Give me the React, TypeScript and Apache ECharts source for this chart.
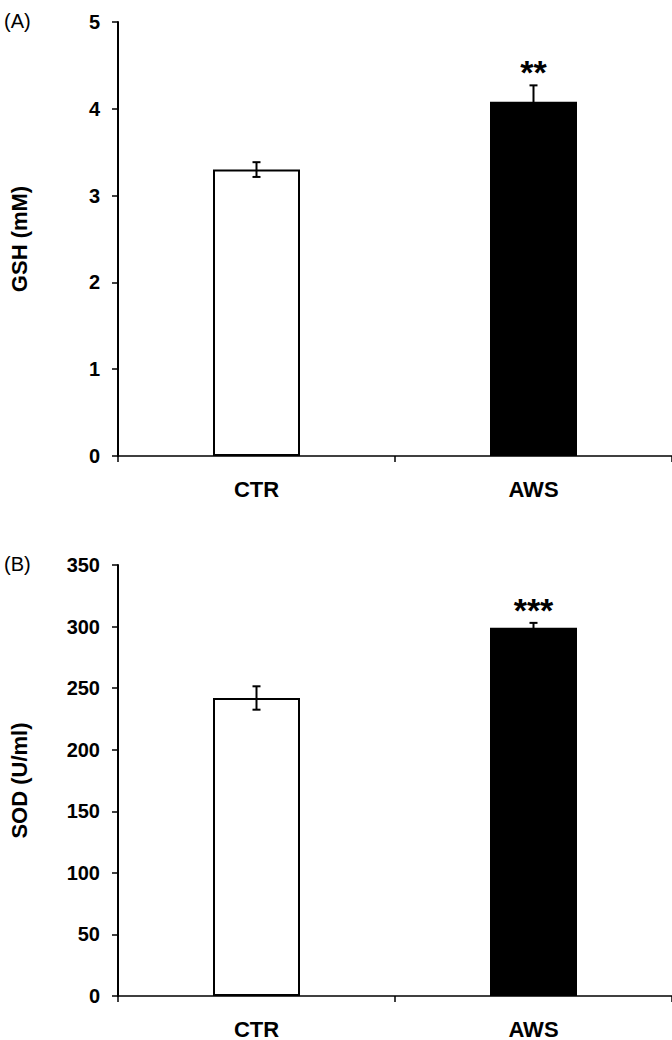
import React, { useEffect, useRef } from "react";
import * as echarts from "echarts";

const categories = ["CTR", "AWS"];
const gshMeans = [3.3, 4.08];
const gshErrors = [0.085, 0.19];
const gshSignif = ["", "**"];
const sodMeans = [242, 299];
const sodErrors = [9.5, 4];
const sodSignif = ["", "***"];
const barFills = ["#ffffff", "#000000"];
const gshTicks = { min: 0, max: 5, interval: 1 };
const sodTicks = { min: 0, max: 350, interval: 50 };

const FONT = "'Liberation Sans', Arial, sans-serif";

const starsRef: Record<string, string[]> = { starsA: gshSignif, starsB: sodSignif };

function errorRender(params: any, api: any) {
  const x = api.value(0);
  const y = api.value(1);
  const e = api.value(2);
  const top = api.coord([x, y + e]);
  const bot = api.coord([x, y - e]);
  const half = 4;
  const st = { stroke: "#000", lineWidth: 2 };
  return {
    type: "group",
    children: [
      { type: "line", shape: { x1: top[0], y1: top[1], x2: bot[0], y2: bot[1] }, style: st },
      { type: "line", shape: { x1: top[0] - half, y1: top[1], x2: top[0] + half, y2: top[1] }, style: st },
      { type: "line", shape: { x1: bot[0] - half, y1: bot[1], x2: bot[0] + half, y2: bot[1] }, style: st },
    ],
  };
}

function starRender(params: any, api: any) {
  const x = api.value(0);
  const y = api.value(1);
  const e = api.value(2);
  const top = api.coord([x, y + e]);
  const txt = starsRef[params.seriesName][params.dataIndex] || "";
  return {
    type: "text",
    x: top[0],
    y: top[1] + 4,
    style: {
      text: txt,
      fontSize: 34,
      fontWeight: "bold",
      fontFamily: FONT,
      fill: "#000",
      align: "center",
      verticalAlign: "bottom",
    },
  };
}

export default function App() {
  const ref = useRef<HTMLDivElement>(null);
  useEffect(() => {
    if (!ref.current) return;
    const chart = echarts.init(ref.current, null, { renderer: "svg" });
    const yAxisCommon = (name: string, ticks: any, gridIndex: number) => ({
      type: "value",
      gridIndex,
      min: ticks.min,
      max: ticks.max,
      interval: ticks.interval,
      name,
      nameLocation: "middle",
      nameGap: 88,
      nameTextStyle: { fontFamily: FONT, fontWeight: "bold", fontSize: 22, color: "#000" },
      axisLine: { show: true, lineStyle: { color: "#000", width: 2 } },
      axisTick: { show: true, length: 6, lineStyle: { color: "#000", width: 1.5 } },
      axisLabel: { fontFamily: FONT, fontWeight: "bold", fontSize: 20, color: "#000", margin: 18 },
      splitLine: { show: false },
    });
    const xAxisCommon = (gridIndex: number) => ({
      type: "category",
      gridIndex,
      data: categories,
      axisLine: { show: true, lineStyle: { color: "#000", width: 1.5 } },
      axisTick: { show: true, length: 6, lineStyle: { color: "#000", width: 1.5 } },
      axisLabel: { fontFamily: FONT, fontWeight: "bold", fontSize: 22, color: "#000", margin: 22 },
    });
    const barData = (means: number[]) =>
      means.map((v, i) => ({
        value: v,
        itemStyle: { color: barFills[i], borderColor: "#000", borderWidth: 2 },
      }));
    const errData = (means: number[], errs: number[]) => means.map((v, i) => [i, v, errs[i]]);
    chart.setOption({
      animation: false,
      backgroundColor: "#fff",
      grid: [
        { left: 118, top: 22, width: 560, height: 434 },
        { left: 118, top: 565, width: 560, height: 435 },
      ],
      xAxis: [xAxisCommon(0), xAxisCommon(1)],
      yAxis: [yAxisCommon("GSH (mM)", gshTicks, 0), yAxisCommon("SOD (U/ml)", sodTicks, 1)],
      graphic: [
        { type: "text", left: 4, top: 11, style: { text: "(A)", fontFamily: FONT, fontSize: 20, fill: "#000" } },
        { type: "text", left: 4, top: 554, style: { text: "(B)", fontFamily: FONT, fontSize: 20, fill: "#000" } },
      ],
      series: [
        { type: "bar", xAxisIndex: 0, yAxisIndex: 0, barWidth: 87, data: barData(gshMeans) },
        { type: "custom", name: "errA", xAxisIndex: 0, yAxisIndex: 0, renderItem: errorRender, data: errData(gshMeans, gshErrors), z: 5 },
        { type: "custom", name: "starsA", xAxisIndex: 0, yAxisIndex: 0, renderItem: starRender, data: errData(gshMeans, gshErrors), z: 5 },
        { type: "bar", xAxisIndex: 1, yAxisIndex: 1, barWidth: 87, data: barData(sodMeans) },
        { type: "custom", name: "errB", xAxisIndex: 1, yAxisIndex: 1, renderItem: errorRender, data: errData(sodMeans, sodErrors), z: 5 },
        { type: "custom", name: "starsB", xAxisIndex: 1, yAxisIndex: 1, renderItem: starRender, data: errData(sodMeans, sodErrors), z: 5 },
      ],
    });
    return () => chart.dispose();
  }, []);
  return (
    <div
      ref={ref}
      style={{ position: "absolute", left: 0, top: 0, width: 672, height: 1040, background: "#fff" }}
    />
  );
}
